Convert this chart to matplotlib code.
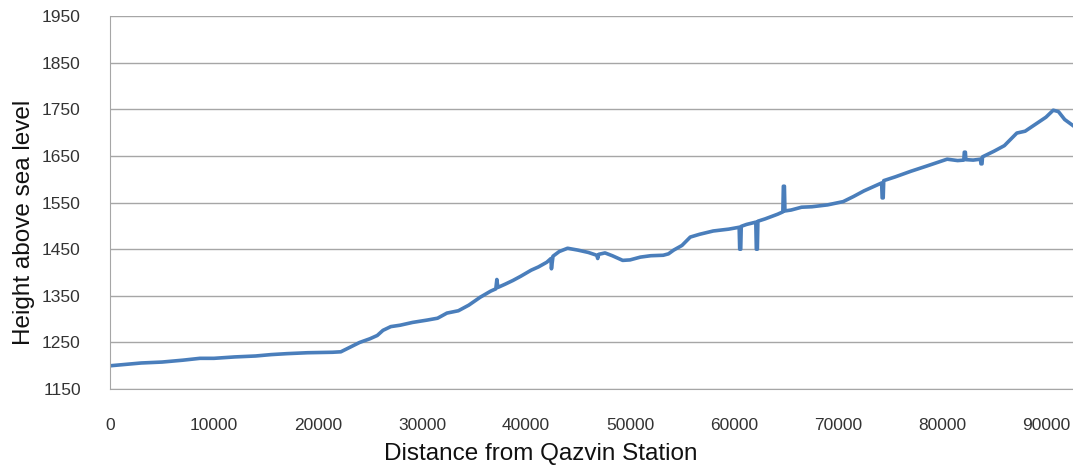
import matplotlib.pyplot as plt

# elevation profile
DISTANCE = [0, 1500, 3000, 5000, 7000, 8650, 10000, 12000, 14000, 15500, 17000, 19000,
            21400, 22200, 23100, 24000, 25000, 25700, 26250, 27000, 27900, 29100,
            30500, 31500, 32400, 33500, 34500, 35600, 36600, 37100, 37200, 37300,
            38000, 38750, 39500, 40500, 41200, 42000, 42400, 42450, 42600, 43200,
            44000, 45000, 46000, 46800, 46900, 47000, 47600, 48300, 49300, 50000,
            51000, 52000, 53200, 53700, 54200, 55000, 55800, 56700, 58000, 59500,
            60500, 60550, 60650, 60700, 61200, 62100, 62150, 62250, 62300, 63000,
            64200, 64700, 64750, 64850, 64900, 65500, 66500, 67500, 69000, 70500,
            71500, 72500, 73500, 74200, 74250, 74350, 74400, 75500, 77000, 78500,
            80500, 81500, 82100, 82150, 82250, 82300, 83000, 83700, 83750, 83850,
            83900, 85000, 86000, 87200, 88000, 89000, 90000, 90700, 91200, 91800,
            92600]
HEIGHT = [1200, 1203, 1206, 1208, 1212, 1216, 1216, 1219, 1221, 1224, 1226, 1228,
          1229, 1230, 1240, 1250, 1258, 1265, 1276, 1284, 1287, 1293,
          1298, 1302, 1313, 1318, 1330, 1347, 1360, 1365, 1385, 1368,
          1375, 1383, 1392, 1405, 1412, 1422, 1430, 1408, 1435, 1445,
          1452, 1448, 1443, 1437, 1430, 1439, 1442, 1436, 1426, 1427,
          1433, 1436, 1437, 1440, 1448, 1458, 1476, 1482, 1489, 1493,
          1497, 1450, 1450, 1499, 1503, 1508, 1450, 1450, 1510, 1515,
          1525, 1530, 1585, 1585, 1532, 1534, 1540, 1541, 1545, 1552,
          1563, 1575, 1585, 1592, 1560, 1560, 1597, 1605, 1617, 1628,
          1643, 1640, 1641, 1658, 1658, 1642, 1641, 1643, 1633, 1633,
          1648, 1660, 1672, 1699, 1703, 1718, 1733, 1748, 1745, 1728,
          1715]

X_TICKS = [0, 10000, 20000, 30000, 40000, 50000, 60000, 70000, 80000, 90000]
Y_TICKS = [1150, 1250, 1350, 1450, 1550, 1650, 1750, 1850, 1950]

plt.rcParams['font.family'] = ['Liberation Sans', 'DejaVu Sans']

fig = plt.figure(figsize=(10.73, 4.66), dpi=100)
ax = fig.add_axes([0.1025, 0.165, 0.8975, 0.8007])

ax.plot(DISTANCE, HEIGHT, color='#4a7ebb', linewidth=2.6, solid_joinstyle='round')

ax.set_xlim(0, 92600)
ax.set_ylim(1150, 1950)
ax.set_xticks(X_TICKS)
ax.set_yticks(Y_TICKS)
ax.tick_params(length=0, labelsize=12.5, colors='#333333', pad=21)
ax.tick_params(axis='x', pad=21)

ax.grid(axis='y', color='#a6a6a6', linewidth=1)
ax.set_axisbelow(True)
for side in ['top', 'right']:
    ax.spines[side].set_visible(False)
ax.spines['left'].set_color('#a6a6a6')
ax.spines['bottom'].set_color('#a6a6a6')

ax.set_xlabel('Distance from Qazvin Station', fontsize=17.5, color='#111111', labelpad=7)
ax.set_ylabel('Height above sea level', fontsize=17.5, color='#111111', labelpad=5)
# labels sit centred on the figure rather than on the plot area
ax.xaxis.label.set_x(0.4476)
ax.yaxis.label.set_y(0.448)

fig.savefig('out.png', dpi=100)
